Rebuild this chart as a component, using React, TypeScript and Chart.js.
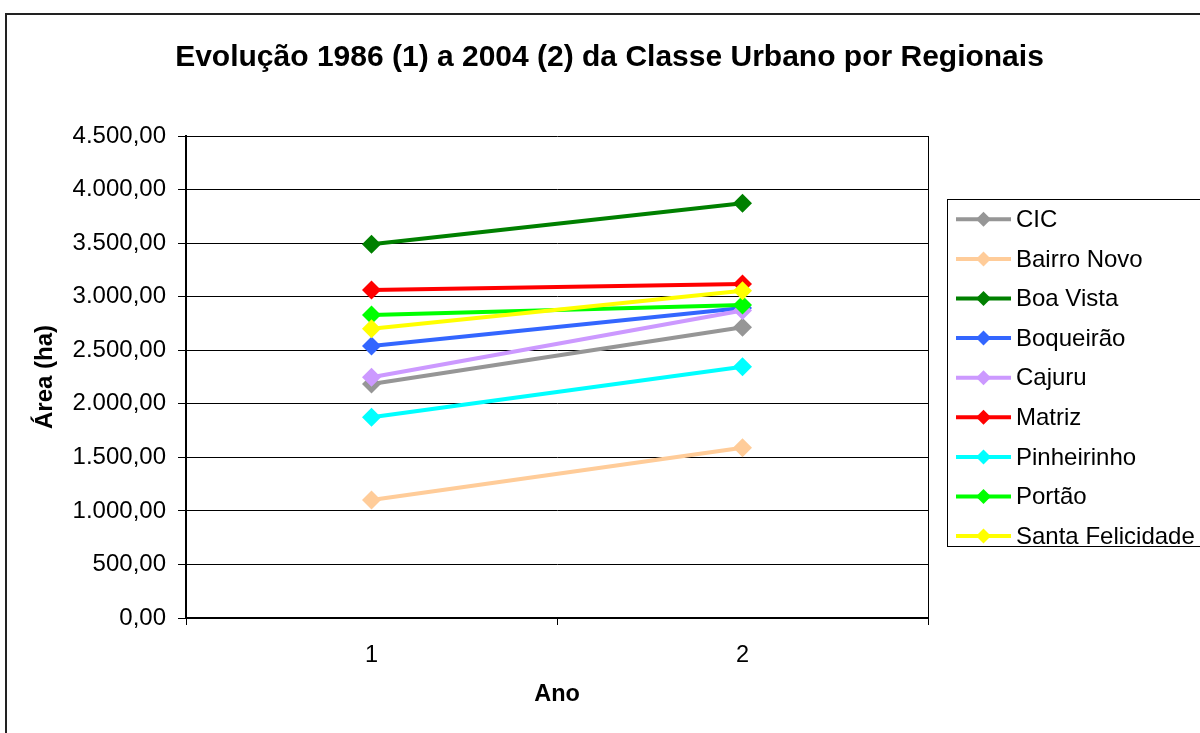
import React, { useEffect, useRef } from 'react';
import { Chart, registerables } from 'chart.js';

Chart.register(...registerables);

const categories = ['1', '2'];
const cic = [2184, 2714];
const bairroNovo = [1102, 1590];
const boaVista = [3489, 3872];
const boqueirao = [2539, 2895];
const cajuru = [2247, 2870];
const matriz = [3062, 3118];
const pinheirinho = [1874, 2346];
const portao = [2829, 2922];
const santaFelicidade = [2701, 3056];

const seriesNames = ['CIC', 'Bairro Novo', 'Boa Vista', 'Boqueirão', 'Cajuru', 'Matriz', 'Pinheirinho', 'Portão', 'Santa Felicidade'];
const seriesValues = [cic, bairroNovo, boaVista, boqueirao, cajuru, matriz, pinheirinho, portao, santaFelicidade];
const seriesColors = ['#969696', '#FFCC99', '#008000', '#3366FF', '#CC99FF', '#FF0000', '#00FFFF', '#00FF00', '#FFFF00'];

const yTickLabels = ['0,00', '500,00', '1.000,00', '1.500,00', '2.000,00', '2.500,00', '3.000,00', '3.500,00', '4.000,00', '4.500,00'];
const titleText = 'Evolução 1986 (1) a 2004 (2) da Classe Urbano por Regionais';
const yAxisTitle = 'Área (ha)';
const xAxisTitle = 'Ano';

const FONT = "'Liberation Sans', Arial, Helvetica, sans-serif";

function diamond(ctx: CanvasRenderingContext2D, x: number, y: number, r: number, color: string) {
  ctx.beginPath();
  ctx.moveTo(x, y - r);
  ctx.lineTo(x + r, y);
  ctx.lineTo(x, y + r);
  ctx.lineTo(x - r, y);
  ctx.closePath();
  ctx.fillStyle = color;
  ctx.fill();
}

const decorPlugin = {
  id: 'decor',
  beforeDraw(chart: any) {
    const ctx = chart.ctx as CanvasRenderingContext2D;
    ctx.save();
    ctx.fillStyle = '#ffffff';
    ctx.fillRect(0, 0, chart.width, chart.height);
    ctx.strokeStyle = '#222222';
    ctx.lineWidth = 2;
    ctx.strokeRect(6, 14, 1400, 900);
    ctx.restore();
  },
  beforeDatasetsDraw(chart: any) {
    const ctx = chart.ctx as CanvasRenderingContext2D;
    const a = chart.chartArea;
    ctx.save();
    ctx.strokeStyle = '#000';
    ctx.lineWidth = 1;
    const r = Math.round(a.right) + 0.5;
    ctx.beginPath();
    ctx.moveTo(r, Math.round(a.top));
    ctx.lineTo(r, Math.round(a.bottom) + 1);
    ctx.stroke();
    ctx.restore();
  },
  afterDraw(chart: any) {
    const ctx = chart.ctx as CanvasRenderingContext2D;
    ctx.save();
    // title
    ctx.fillStyle = '#000';
    ctx.font = `bold 30px ${FONT}`;
    ctx.textAlign = 'center';
    ctx.textBaseline = 'middle';
    ctx.fillText(titleText, 609.5, 58);
    // legend
    ctx.strokeStyle = '#000';
    ctx.lineWidth = 1;
    ctx.strokeRect(947.5, 199.5, 300, 347);
    ctx.font = `24px ${FONT}`;
    ctx.textAlign = 'left';
    seriesNames.forEach((name, i) => {
      const y = 219.3 + i * 39.6;
      const c = seriesColors[i];
      ctx.strokeStyle = c;
      ctx.lineWidth = 4;
      ctx.beginPath();
      ctx.moveTo(956, y);
      ctx.lineTo(1011, y);
      ctx.stroke();
      diamond(ctx, 983.5, y, 7.5, c);
      ctx.fillStyle = '#000';
      ctx.fillText(name, 1016, y + 1);
    });
    ctx.restore();
  },
};

export default function App() {
  const ref = useRef<HTMLCanvasElement | null>(null);
  useEffect(() => {
    if (!ref.current) return;
    const n = seriesNames.length;
    const chart = new Chart(ref.current, {
      type: 'line',
      data: {
        labels: categories,
        datasets: seriesNames.map((name, i) => ({
          label: name,
          data: seriesValues[i],
          borderColor: seriesColors[i],
          backgroundColor: seriesColors[i],
          pointBackgroundColor: seriesColors[i],
          pointBorderColor: seriesColors[i],
          borderWidth: 4,
          pointStyle: 'rectRot',
          pointRadius: 9.5,
          pointBorderWidth: 0,
          tension: 0,
          fill: false,
          order: n - i,
        })),
      },
      options: {
        responsive: false,
        animation: false,
        devicePixelRatio: 1,
        layout: { padding: { left: 20, top: 136, right: 272, bottom: 10 } },
        plugins: {
          legend: { display: false },
          title: { display: false },
          tooltip: { enabled: false },
        },
        scales: {
          x: {
            type: 'category',
            offset: true,
            grid: { display: true, offset: true, drawOnChartArea: false, drawTicks: true, tickLength: 7, color: '#000' },
            border: { display: true, color: '#000', width: 2 },
            ticks: { color: '#000', font: { family: FONT, size: 23.5 }, padding: 16 },
            title: { display: true, text: xAxisTitle, color: '#000', font: { family: FONT, size: 23.5, weight: 'bold' }, padding: { top: 0, bottom: 14 } },
            afterFit: (scale: any) => { scale.height = 733 - 618 - 10; },
          },
          y: {
            min: 0,
            max: 4500,
            ticks: {
              stepSize: 500,
              color: '#000',
              font: { family: FONT, size: 24 },
              padding: 12,
              callback: (_v: any, idx: number) => yTickLabels[idx],
            },
            grid: { color: '#000', lineWidth: 1, drawTicks: true, tickLength: 8 },
            border: { display: true, color: '#000', width: 2 },
            title: { display: true, text: yAxisTitle, color: '#000', font: { family: FONT, size: 24, weight: 'bold' }, padding: { top: 10.6, bottom: 0 } },
            afterFit: (scale: any) => { scale.width = 186 - 20; },
          },
        },
      },
      plugins: [decorPlugin],
    } as any);
    return () => chart.destroy();
  }, []);
  return (
    <div style={{ position: 'fixed', left: 0, top: 0, width: 1200, height: 733, overflow: 'hidden', background: '#fff' }}>
      <canvas ref={ref} width={1200} height={733} style={{ display: 'block', width: 1200, height: 733 }} />
    </div>
  );
}
